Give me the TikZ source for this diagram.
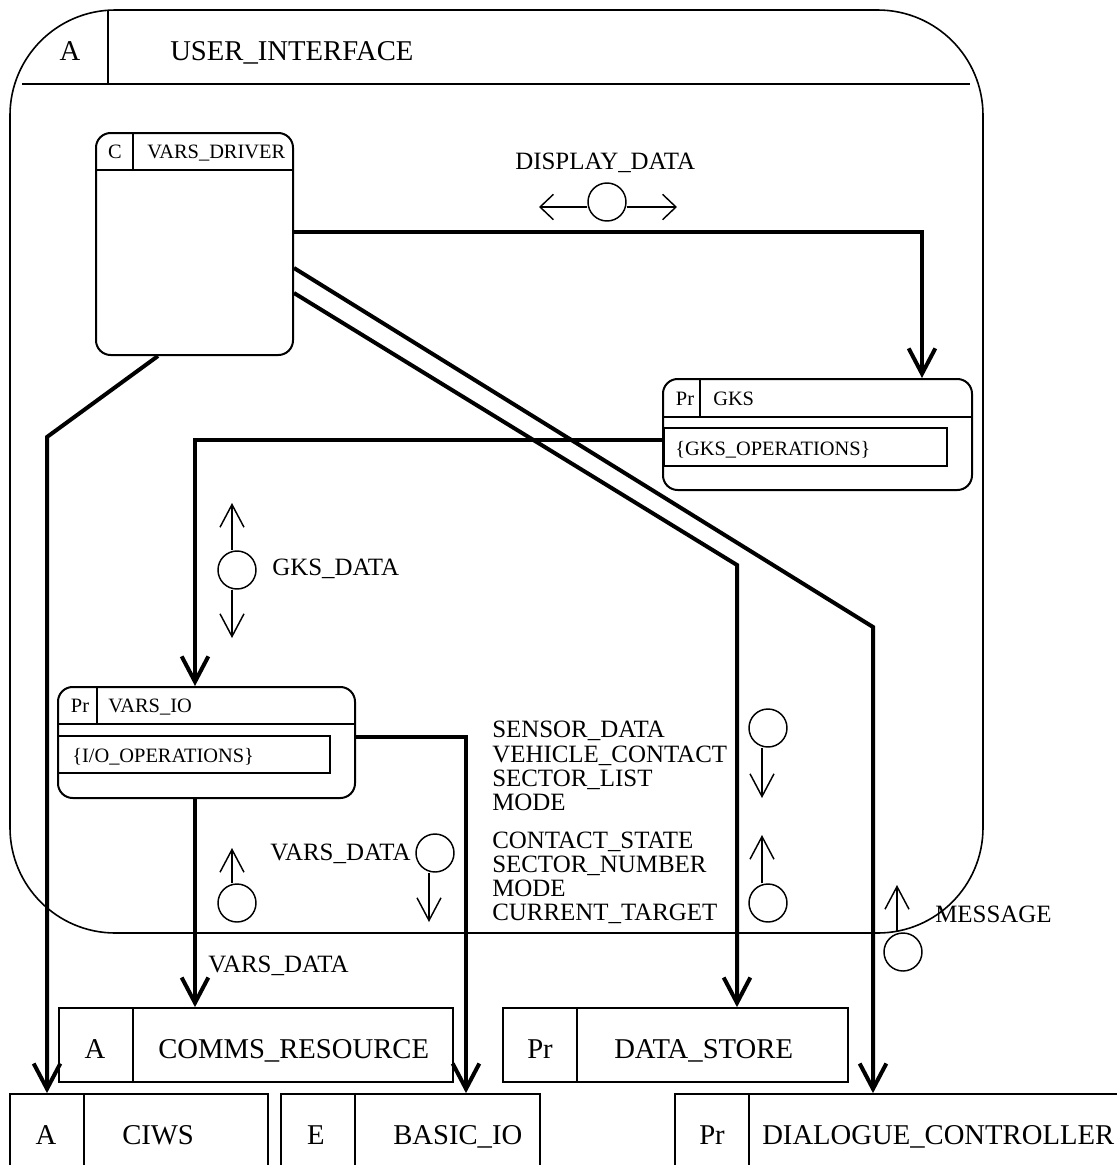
\documentclass[tikz,border=0pt]{standalone}
\usepackage{fontspec}
\setmainfont{Liberation Serif}
\usetikzlibrary{arrows.meta,fit,calc}
\begin{document}
\begin{tikzpicture}[x=0.75pt,y=-0.75pt,
  box/.style={draw, inner sep=0pt, line width=1.3pt},
  rbox/.style={box, rounded corners=11pt, line width=1.5pt},
  part/.style={line width=1.3pt},
  rpart/.style={line width=1.5pt},
  conn/.style={line width=3pt, -{Straight Barb[length=19pt,width=20pt]}},
  flow/.style={line width=1.1pt, -{Straight Barb[length=17pt,width=18pt]}},
  flowh/.style={line width=1.1pt, -{Straight Barb[length=10pt,width=19pt]}},
  dot/.style={circle, draw, line width=1.1pt, minimum size=28.5pt, inner sep=0pt},
  big/.style={font=\fontsize{21.5pt}{21.5pt}\selectfont, inner sep=0pt},
  small/.style={font=\fontsize{15.3pt}{15.3pt}\selectfont, inner sep=0pt},
  lbl/.style={font=\fontsize{18.7pt}{18.7pt}\selectfont, inner sep=0pt, anchor=base west},
]
\useasboundingbox (0,0) rectangle (1117,1165);
\clip (0,0) rectangle (1117,1165);

% ---- enclosing activity USER_INTERFACE
\node[box, rounded corners=79pt, line width=1.2pt, fit={(10,10) (983,933)}] (ui) {};
\draw[part, line width=1.2pt] (22,84) -- (970,84);
\draw[part, line width=1.2pt] (108,10) -- (108,84);
\node[big, anchor=base] (uiK) at (70,60) {A};
\node[big, anchor=base west] (uiN) at (170,60) {USER\_INTERFACE};

% ---- VARS_DRIVER
\node[rbox, fit={(96,133) (293,355)}] (drv) {};
\draw[rpart] (96,170) -- (293,170);
\draw[rpart] (133,133) -- (133,170);
\node[small, anchor=base] (drvK) at (115,158) {C};
\node[small, anchor=base west] (drvN) at (147,158) {VARS\_DRIVER};

% ---- GKS
\node[rbox, fit={(663,379) (972,490)}] (gks) {};
\draw[rpart] (663,417) -- (972,417);
\draw[rpart] (700,379) -- (700,417);
\node[box, line width=1.5pt, fit={(664,428) (947,466)}] (gksops) {};
\node[small, anchor=base] (gksK) at (685,405) {Pr};
\node[small, anchor=base west] (gksN) at (713,405) {GKS};
\node[small, anchor=base west] (gksO) at (675,455) {\{GKS\_OPERATIONS\}};

% ---- VARS_IO
\node[rbox, fit={(58,687) (355,798)}] (io) {};
\draw[rpart] (58,724) -- (355,724);
\draw[rpart] (97,687) -- (97,724);
\node[box, line width=1.5pt, fit={(58,736) (330,773)}] (ioops) {};
\node[small, anchor=base] (ioK) at (80,712) {Pr};
\node[small, anchor=base west] (ioN) at (108,712) {VARS\_IO};
\node[small, anchor=base west] (ioO) at (72,762) {\{I/O\_OPERATIONS\}};

% ---- external boxes
\node[box, fit={(59,1008) (453,1082)}] (comms) {};
\draw[part] (133,1008) -- (133,1082);
\node[big, anchor=base] (commsK) at (95,1058) {A};
\node[big, anchor=base west] (commsN) at (158,1058) {COMMS\_RESOURCE};

\node[box, fit={(503,1008) (848,1082)}] (store) {};
\draw[part] (577,1008) -- (577,1082);
\node[big, anchor=base] (storeK) at (540,1058) {Pr};
\node[big, anchor=base west] (storeN) at (614,1058) {DATA\_STORE};

\node[box, fit={(10,1094) (268,1210)}] (ciws) {};
\draw[part] (84,1094) -- (84,1210);
\node[big, anchor=base] (ciwsK) at (46,1144) {A};
\node[big, anchor=base west] (ciwsN) at (122,1144) {CIWS};

\node[box, fit={(281,1094) (540,1210)}] (basic) {};
\draw[part] (355,1094) -- (355,1210);
\node[big, anchor=base] (basicK) at (316,1144) {E};
\node[big, anchor=base west] (basicN) at (393,1144) {BASIC\_IO};

\node[box, fit={(675,1094) (1140,1210)}] (dlg) {};
\draw[part] (749,1094) -- (749,1210);
\node[big, anchor=base] (dlgK) at (712,1144) {Pr};
\node[big, anchor=base west] (dlgN) at (762,1144) {DIALOGUE\_CONTROLLER};

% ---- control / data connectors
\draw[conn] (drv.east |- 0,232) -| (gks.north -| 922,0);
\draw[conn] (drv.east |- 0,268) -- (873,627) -- (dlg.north -| 873,0);
\draw[conn] (drv.east |- 0,293) -- (737,565) -- (store.north -| 737,0);
\draw[conn] (drv.south -| 158,0) -- (47,437) -- (ciws.north -| 47,0);
\draw[conn] (gks.west |- 0,440) -| (io.north -| 195,0);
\draw[conn] (io.south -| 195,0) -- (comms.north -| 195,0);
\draw[conn] (io.east |- 0,737) -| (basic.north -| 466,0);

% ---- data flow symbols
\node[dot] (fd) at (607,202) {};
\coordinate (fdL) at (539,207);
\coordinate (fdR) at (677,207);
\draw[flowh] (fd.west |- 0,207) -- (fdL);
\draw[flowh] (fd.east |- 0,207) -- (fdR);
\node[lbl] (fdT) at (515,169) {DISPLAY\_DATA};

\node[dot] (gd) at (237,570) {};
\coordinate (gdU) at (232,503);
\coordinate (gdD) at (232,638);
\draw[flow] (gd.north -| 232,0) -- (gdU);
\draw[flow] (gd.south -| 232,0) -- (gdD);
\node[lbl] (gdT) at (272,575) {GKS\_DATA};

\node[dot] (sd) at (768,728) {};
\coordinate (sdD) at (762,798);
\draw[flow] (sd.south -| 762,0) -- (sdD);

\node[dot] (cd) at (768,903) {};
\coordinate (cdU) at (762,835);
\draw[flow] (cd.north -| 762,0) -- (cdU);

\node[lbl] (s1) at (492,737) {SENSOR\_DATA};
\node[lbl] (s2) at (492,762) {VEHICLE\_CONTACT};
\node[lbl] (s3) at (492,786) {SECTOR\_LIST};
\node[lbl] (s4) at (492,810) {MODE};
\node[lbl] (c1) at (492,848) {CONTACT\_STATE};
\node[lbl] (c2) at (492,872) {SECTOR\_NUMBER};
\node[lbl] (c3) at (492,896) {MODE};
\node[lbl] (c4) at (492,920) {CURRENT\_TARGET};

\node[dot] (vu) at (237,903) {};
\coordinate (vuU) at (232,848);
\draw[flow] (vu.north -| 232,0) -- (vuU);

\node[dot] (vd) at (435,853) {};
\coordinate (vdD) at (429,922);
\draw[flow] (vd.south -| 429,0) -- (vdD);
\node[lbl] (vT) at (270,860) {VARS\_DATA};

\node[lbl] (vT2) at (208,972) {VARS\_DATA};

\node[dot] (md) at (903,952) {};
\coordinate (mdU) at (897,885);
\draw[flow] (md.north -| 897,0) -- (mdU);
\node[lbl] (mT) at (935,922) {MESSAGE};
\end{tikzpicture}
\end{document}
